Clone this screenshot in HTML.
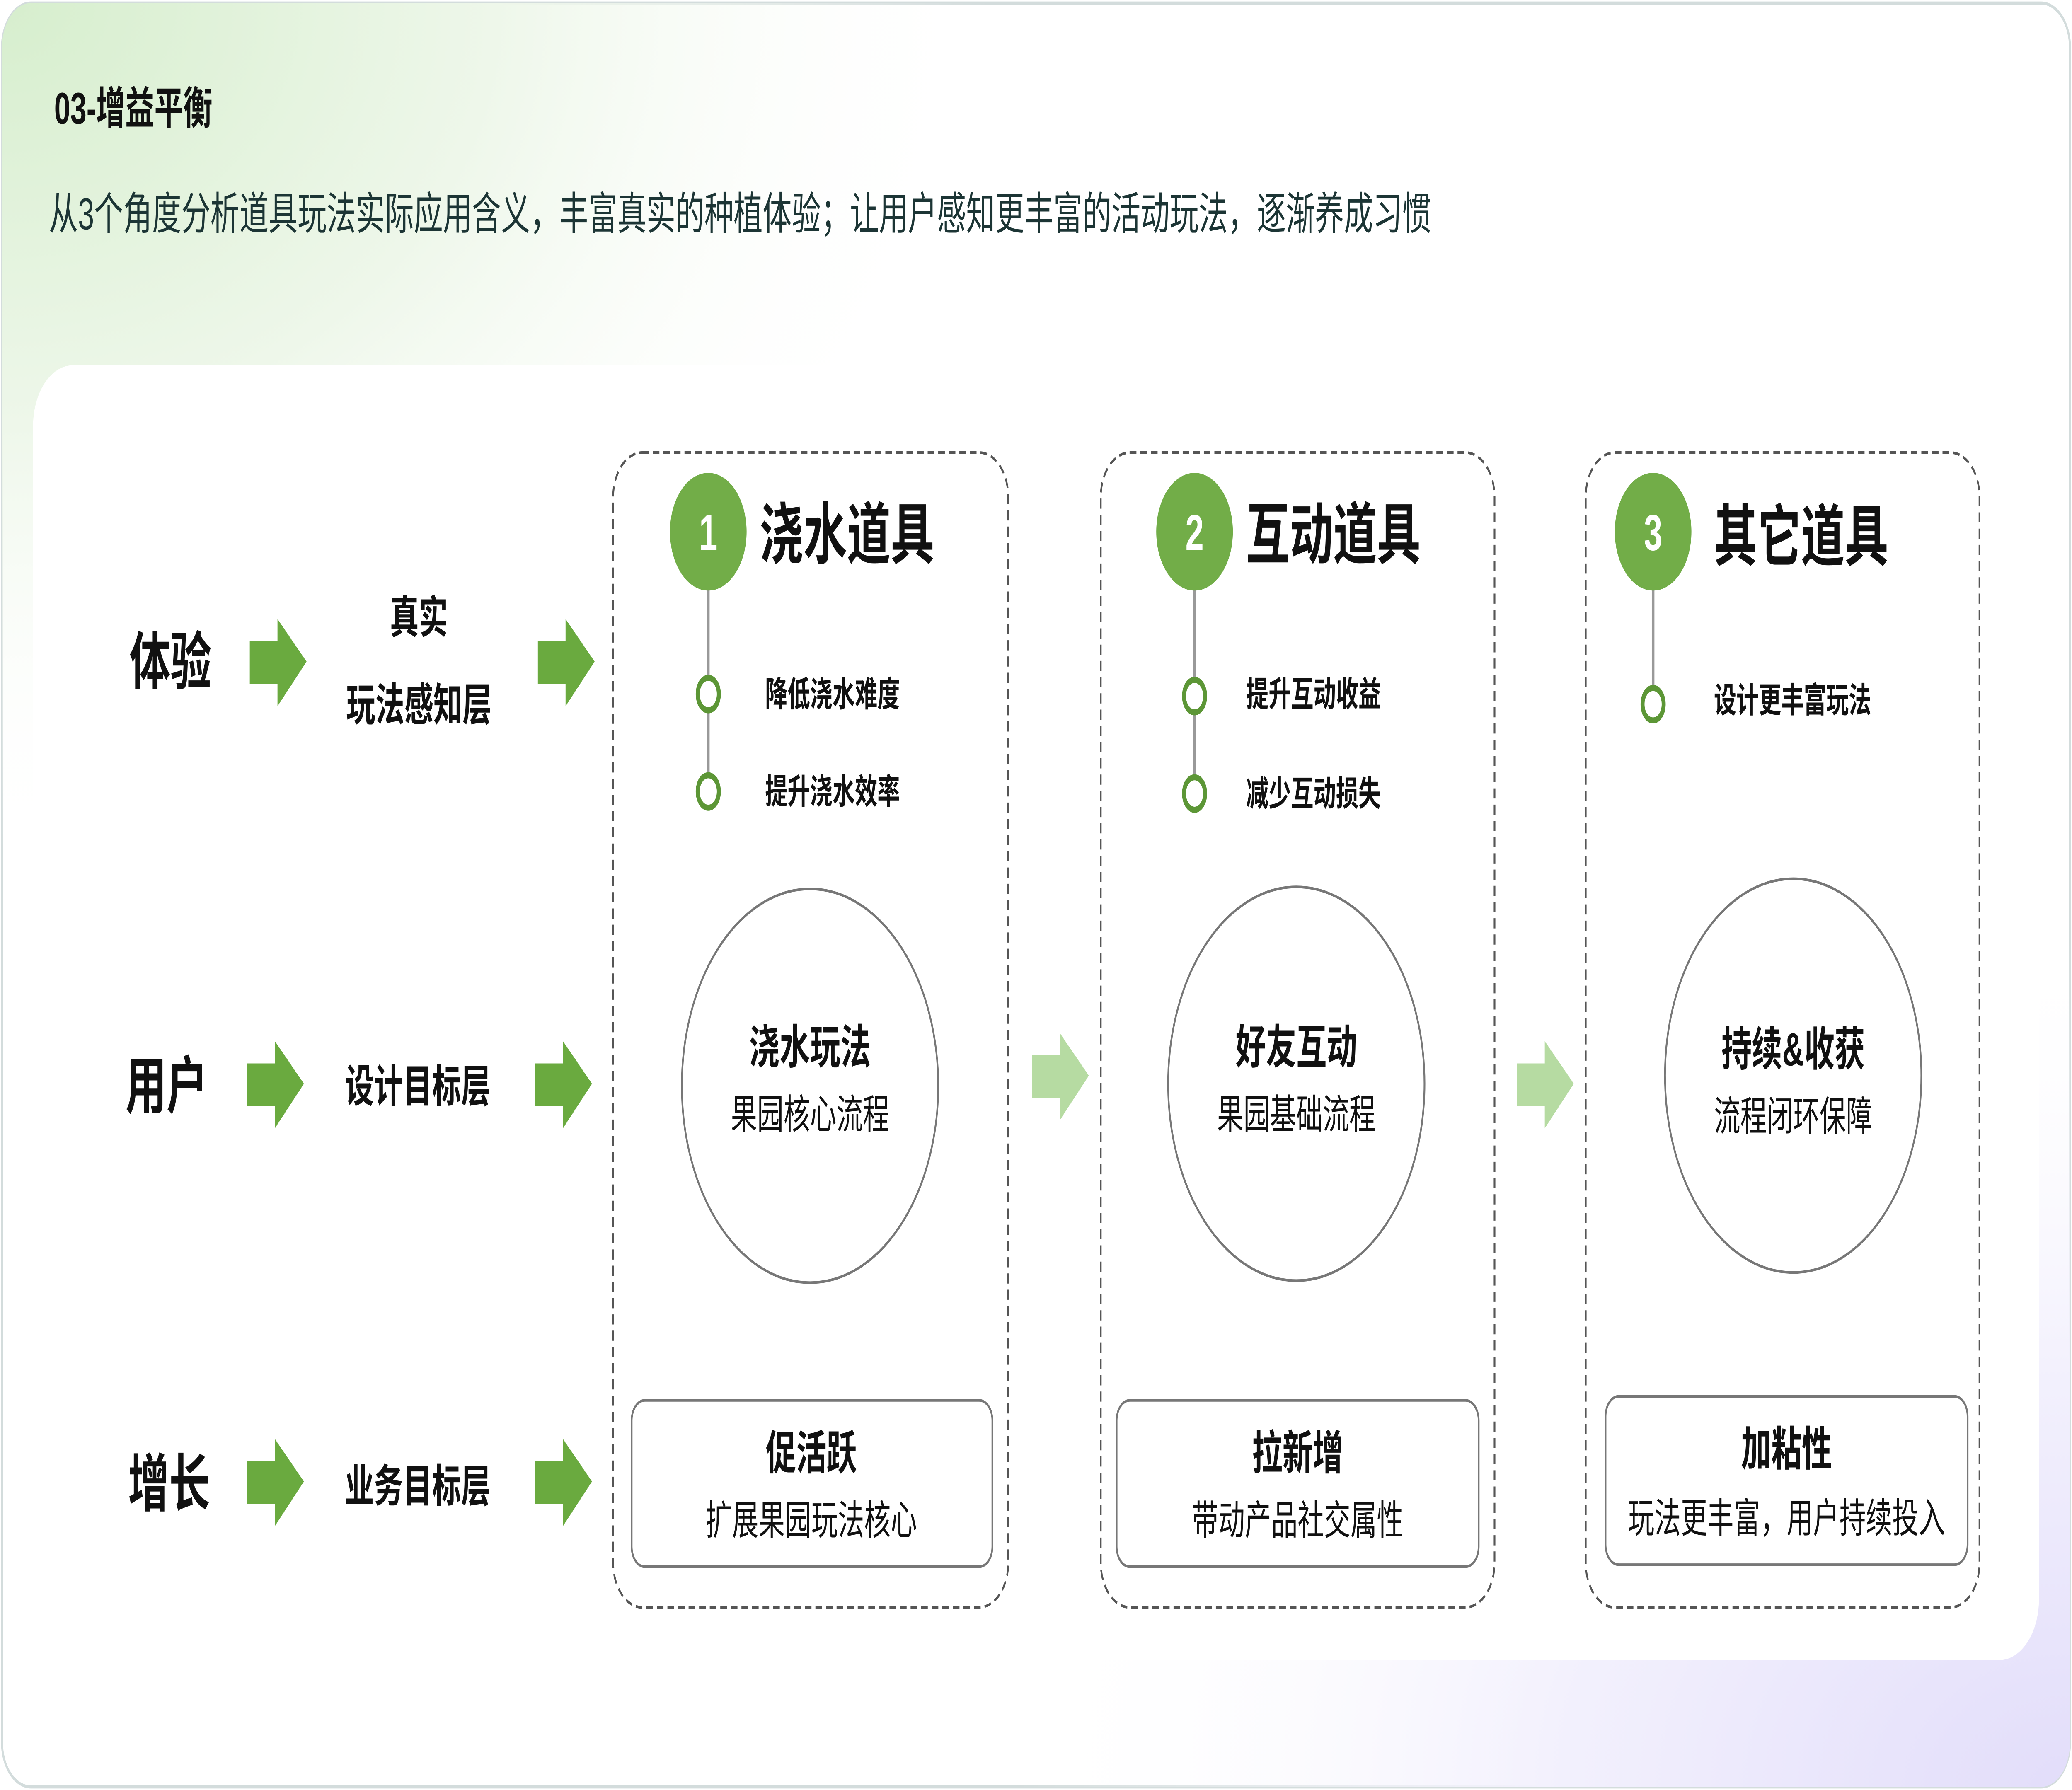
<!DOCTYPE html>
<html><head><meta charset="utf-8"><style>
html,body{margin:0;padding:0;width:100%;height:100%;overflow:hidden;background:#fff}
svg{display:block;width:100vw;height:100vh}
text{font-family:"Liberation Sans","Noto Sans CJK SC",sans-serif;fill:#111}
.b{font-weight:bold}
</style></head><body>
<svg viewBox="0 0 1568 882" preserveAspectRatio="none" xmlns="http://www.w3.org/2000/svg">
<defs>
<radialGradient id="g1" cx="0" cy="0" r="1" gradientUnits="userSpaceOnUse" gradientTransform="translate(0 0) scale(750 420)">
<stop offset="0" stop-color="#d6eecd"/><stop offset="0.5" stop-color="#eef7ea"/><stop offset="1" stop-color="#ffffff" stop-opacity="0"/></radialGradient>
<radialGradient id="g2" cx="0" cy="0" r="1" gradientUnits="userSpaceOnUse" gradientTransform="translate(1568 882) scale(800 420)">
<stop offset="0" stop-color="#e2ddfa"/><stop offset="0.5" stop-color="#f3f1fd"/><stop offset="1" stop-color="#ffffff" stop-opacity="0"/></radialGradient>
<path id="ar" d="M0,11 H21 V0 L43,21 L21,43 V32 H0 Z"/>
</defs>
<rect x="1.5" y="1.5" width="1565" height="879" rx="22" fill="#fff" stroke="#d3dcdc" stroke-width="1.5"/>
<rect x="1.5" y="1.5" width="1565" height="879" rx="22" fill="url(#g1)"/>
<rect x="1.5" y="1.5" width="1565" height="879" rx="22" fill="url(#g2)"/>
<text x="41" y="61" class="b" font-size="22">03-增益平衡</text>
<text x="37" y="113" font-size="22" style="fill:#1c3535">从3个角度分析道具玩法实际应用含义，丰富真实的种植体验；让用户感知更丰富的活动玩法，逐渐养成习惯</text>
<rect x="25" y="180" width="1518" height="638" rx="30" fill="#fff"/>

<g fill="#6aaa3f">
<use href="#ar" x="189" y="305"/><use href="#ar" x="407" y="305"/>
<use href="#ar" x="187" y="513"/><use href="#ar" x="405" y="513"/>
<use href="#ar" x="187" y="709"/><use href="#ar" x="405" y="709"/>
</g>
<g fill="#b6dba2"><use href="#ar" x="781" y="509"/><use href="#ar" x="1148" y="513"/></g>

<text x="98" y="337" class="b" font-size="31">体验</text>
<text x="95" y="546" class="b" font-size="31">用户</text>
<text x="97" y="742" class="b" font-size="31">增长</text>
<g class="b" font-size="22" text-anchor="middle">
<text x="317" y="312" class="b">真实</text>
<text x="317" y="355" class="b">玩法感知层</text>
<text x="316" y="543" class="b">设计目标层</text>
<text x="316" y="740" class="b">业务目标层</text>
</g>

<g fill="none" stroke="#555" stroke-width="1.3" stroke-dasharray="5 3">
<rect x="464" y="223" width="299" height="569" rx="22"/>
<rect x="833" y="223" width="298" height="569" rx="22"/>
<rect x="1200" y="223" width="298" height="569" rx="22"/>
</g>
<g stroke="#999" stroke-width="2">
<line x1="536" y1="280" x2="536" y2="390"/>
<line x1="904" y1="280" x2="904" y2="390"/>
<line x1="1251" y1="280" x2="1251" y2="346"/>
</g>
<g fill="#72ad48">
<circle cx="536" cy="262" r="29"/><circle cx="904" cy="262" r="29"/><circle cx="1251" cy="262" r="29"/>
</g>
<g font-size="25" text-anchor="middle">
<text x="536" y="271" class="b" style="fill:#fff">1</text>
<text x="904" y="271" class="b" style="fill:#fff">2</text>
<text x="1251" y="271" class="b" style="fill:#fff">3</text>
</g>
<text x="575" y="275" class="b" font-size="33">浇水道具</text>
<text x="943" y="275" class="b" font-size="33">互动道具</text>
<text x="1297" y="276" class="b" font-size="33">其它道具</text>

<g fill="#fff" stroke="#5c9636" stroke-width="3">
<circle cx="536" cy="342" r="8"/><circle cx="536" cy="390" r="8"/>
<circle cx="904" cy="343" r="8"/><circle cx="904" cy="391" r="8"/>
<circle cx="1251" cy="347" r="8"/>
</g>
<g font-size="17">
<text x="579" y="348" class="b">降低浇水难度</text>
<text x="579" y="396" class="b">提升浇水效率</text>
<text x="943" y="348" class="b">提升互动收益</text>
<text x="943" y="397" class="b">减少互动损失</text>
<text x="1297" y="351" class="b">设计更丰富玩法</text>
</g>

<g fill="none" stroke="#777" stroke-width="1.3">
<circle cx="613" cy="535" r="97"/><circle cx="981" cy="534" r="97"/><circle cx="1357" cy="530" r="97"/>
<rect x="478" y="690" width="273" height="82" rx="10"/>
<rect x="845" y="690" width="274" height="82" rx="10"/>
<rect x="1215" y="688" width="274" height="83" rx="10"/>
</g>
<g text-anchor="middle">
<text x="613" y="524" class="b" font-size="23">浇水玩法</text>
<text x="613" y="556" font-size="20">果园核心流程</text>
<text x="981" y="524" class="b" font-size="23">好友互动</text>
<text x="981" y="556" font-size="20">果园基础流程</text>
<text x="1357" y="525" class="b" font-size="23">持续&amp;收获</text>
<text x="1357" y="557" font-size="20">流程闭环保障</text>
<text x="614" y="724" class="b" font-size="23">促活跃</text>
<text x="614" y="756" font-size="20">扩展果园玩法核心</text>
<text x="982" y="724" class="b" font-size="23">拉新增</text>
<text x="982" y="756" font-size="20">带动产品社交属性</text>
<text x="1352" y="722" class="b" font-size="23">加粘性</text>
<text x="1352" y="755" font-size="20">玩法更丰富，用户持续投入</text>
</g>
</svg>
</body></html>
